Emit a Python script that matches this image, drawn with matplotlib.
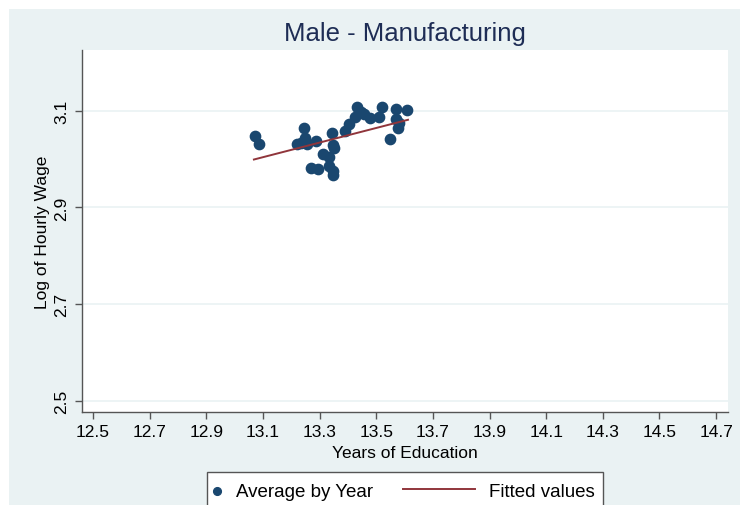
import numpy as np
import matplotlib
matplotlib.use("Agg")
import matplotlib.pyplot as plt
from matplotlib.patches import Rectangle
from matplotlib.legend_handler import HandlerLine2D

plt.rcParams['font.family'] = ['Liberation Sans', 'DejaVu Sans']

# Average log hourly wage vs years of education, one point per year
educ = [13.071, 13.086, 13.219, 13.244, 13.248, 13.254, 13.234, 13.289,
        13.268, 13.295, 13.312, 13.334, 13.334, 13.348, 13.349, 13.342,
        13.348, 13.389, 13.404, 13.424, 13.432, 13.447, 13.477, 13.510,
        13.522, 13.569, 13.569, 13.577, 13.548, 13.610, 13.579, 13.457,
        13.350]
lwage = [3.048, 3.031, 3.031, 3.065, 3.044, 3.031, 3.033, 3.037,
         2.982, 2.979, 3.010, 3.005, 2.986, 2.975, 2.968, 3.053,
         3.028, 3.058, 3.073, 3.087, 3.107, 3.098, 3.084, 3.087,
         3.107, 3.104, 3.082, 3.065, 3.041, 3.101, 3.074, 3.093,
         3.022]

# fitted values (at the ends of the education range)
fit_x = [13.068, 13.612]
fit_y = [2.999, 3.081]

x_ticks = [12.5, 12.7, 12.9, 13.1, 13.3, 13.5, 13.7, 13.9, 14.1, 14.3, 14.5, 14.7]
y_ticks = [2.5, 2.7, 2.9, 3.1]

BG = "#EAF2F3"
NAVY = "#1A476F"
MAROON = "#90353B"
AXC = "#555555"

fig = plt.figure(figsize=(7.4, 5.06), dpi=100, facecolor="white")
fig.add_artist(Rectangle((9 / 740, 0), 1, 1 - 10 / 506, transform=fig.transFigure,
                         facecolor=BG, edgecolor="none", zorder=0))

ax = fig.add_axes([82 / 740, 1 - 413 / 506, 646 / 740, 362 / 506])
ax.set_facecolor("white")

ax.scatter(educ, lwage, s=55, color=NAVY, zorder=3, label="Average by Year")
ax.plot(fit_x, fit_y, color=MAROON, lw=1.4, zorder=4, label="Fitted values")

ax.set_xlim(12.461, 14.742)
ax.set_ylim(2.478, 3.225)
ax.set_xticks(x_ticks)
ax.set_xticklabels([f"{v:.1f}" for v in x_ticks])
ax.set_yticks(y_ticks)
ax.set_yticklabels([f"{v:.1f}" for v in y_ticks], rotation=90, va="center")

ax.grid(axis="y", color=BG, lw=1.2, zorder=0)
ax.set_axisbelow(True)
for s in ["top", "right"]:
    ax.spines[s].set_visible(False)
for s in ["left", "bottom"]:
    ax.spines[s].set_color(AXC)
    ax.spines[s].set_linewidth(1.0)
ax.tick_params(direction="out", length=5, width=1, color=AXC,
               labelsize=12.5, labelcolor="black", pad=4)

ax.set_xlabel("Years of Education", fontsize=12.5, labelpad=4)
ax.set_ylabel("Log of Hourly Wage", fontsize=12.5, labelpad=3)
ax.set_title("Male - Manufacturing", fontsize=18.5, color="#1E2D55", pad=7)


class WideLine(HandlerLine2D):
    def legend_artist(self, legend, orig_handle, fontsize, handlebox):
        handlebox.width = 3.85 * fontsize
        return super().legend_artist(legend, orig_handle, fontsize, handlebox)


# legend box runs off the bottom edge, as in the original export
fig.add_artist(Rectangle((207 / 740, -0.05), 396 / 740, 0.05 + 33 / 506,
                         transform=fig.transFigure, facecolor="white",
                         edgecolor=AXC, lw=1.0, zorder=2))

handles, labels = ax.get_legend_handles_labels()
leg = fig.legend(handles, labels, loc="center left",
                 bbox_to_anchor=(207 / 740, 1 - 492 / 506),
                 bbox_transform=fig.transFigure, ncol=2, fontsize=13.5,
                 frameon=False, borderpad=0.28, borderaxespad=0,
                 handlelength=0.5, handletextpad=0.76, columnspacing=1.6,
                 scatterpoints=1, markerscale=0.75,
                 handler_map={handles[1]: WideLine()})
leg.set_zorder(3)

fig.savefig("out.png", dpi=100, facecolor="white")
